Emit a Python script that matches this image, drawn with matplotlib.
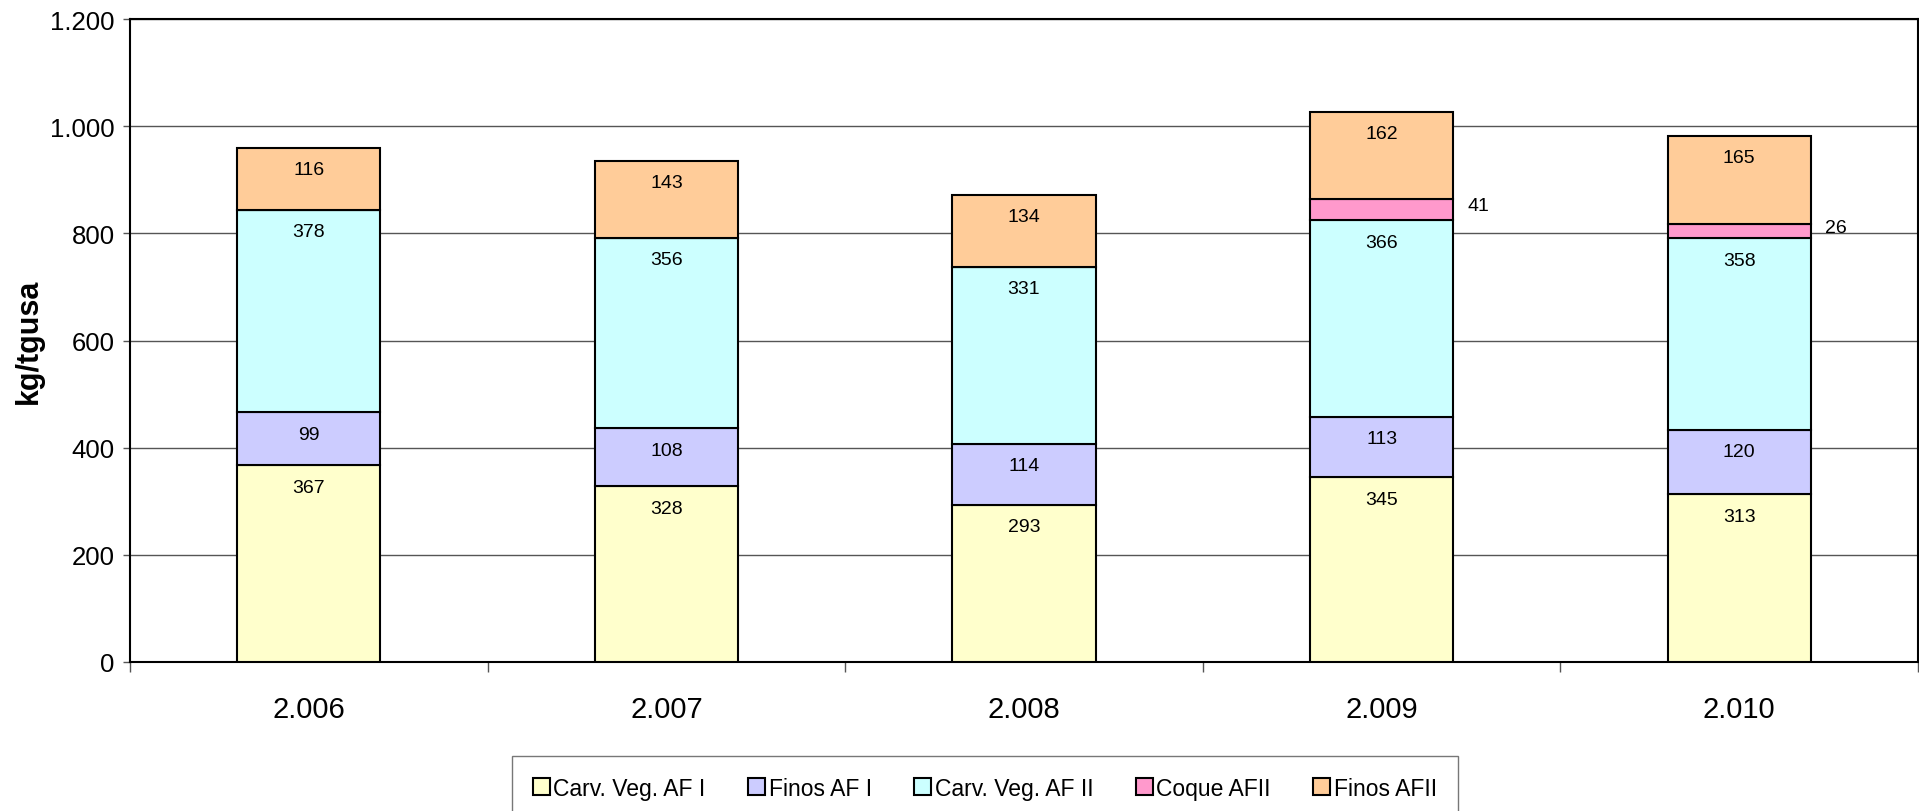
import numpy as np
import matplotlib
matplotlib.use("Agg")
import matplotlib.pyplot as plt

# ─── Data ────────────────────────────────────────────────────────────────────

years = ["2.006", "2.007", "2.008", "2.009", "2.010"]

carv_veg_af1 = [367, 328, 293, 345, 313]
finos_af1    = [99, 108, 114, 113, 120]
carv_veg_af2 = [378, 356, 331, 366, 358]
coque_af2    = [0, 0, 0, 41, 26]
finos_af2    = [116, 143, 134, 162, 165]

series_names  = ["Carv. Veg. AF I", "Finos AF I", "Carv. Veg. AF II", "Coque AFII", "Finos AFII"]
series_colors = ["#FFFFCC", "#CCCCFF", "#CCFFFF", "#FF99CC", "#FFCC99"]

y_ticks = [0, 200, 400, 600, 800, 1000, 1200]

# ─── Plot ────────────────────────────────────────────────────────────────────

plt.rcParams["font.family"] = ["Liberation Sans", "DejaVu Sans"]

W, H = 1919, 812
fig = plt.figure(figsize=(W / 100, H / 100), dpi=100)
ax = fig.add_axes([130 / W, (H - 663) / H, 1788 / W, 643 / H])

x = np.arange(len(years))
width = 0.4
series = [carv_veg_af1, finos_af1, carv_veg_af2, coque_af2, finos_af2]
bottom = np.zeros(len(years))

for name, vals, color in zip(series_names, series, series_colors):
    vals = np.asarray(vals, dtype=float)
    ax.bar(x, vals, width, bottom=bottom, color=color, edgecolor="black",
           linewidth=1.5, label=name, zorder=3)
    for xi, b, v in zip(x, bottom, vals):
        if v <= 0:
            continue
        if name == "Coque AFII":
            # small segment -> label outside, right of the bar
            ax.annotate(f"{int(v)}", (xi + width / 2, b + v / 2),
                        xytext=(10, 3), textcoords="offset points",
                        ha="left", va="center", fontsize=14, zorder=4)
        else:
            ax.annotate(f"{int(v)}", (xi, b + v),
                        xytext=(0, -19), textcoords="offset points",
                        ha="center", va="baseline", fontsize=14, zorder=4)
    bottom += vals

ax.set_xlim(-0.5, len(years) - 0.5)
ax.set_ylim(0, 1200)

ax.set_yticks(y_ticks)
ax.set_yticklabels([f"{v:,}".replace(",", ".") for v in y_ticks], fontsize=18.5)
ax.tick_params(axis="y", length=5, width=1, color="#555555", pad=6)

ax.set_xticks(x)
ax.set_xticklabels(years, fontsize=21)
ax.set_xticks(np.arange(len(years) + 1) - 0.5, minor=True)
ax.tick_params(axis="x", which="major", length=0, pad=24)
ax.tick_params(axis="x", which="minor", length=7, width=1, color="#555555")

ax.yaxis.grid(True, color="#555555", linewidth=1.0, zorder=0)
ax.set_axisbelow(True)

for sp in ax.spines.values():
    sp.set_color("black")
    sp.set_linewidth(1.5)

ax.set_ylabel("kg/tgusa", fontsize=22, fontweight="bold")
ax.yaxis.set_label_coords(-0.048, 0.5)

leg = fig.legend(loc="upper left", bbox_to_anchor=(512 / W, 1 - 757 / H),
                 bbox_transform=fig.transFigure, borderaxespad=0,
                 ncol=5, fontsize=16.5, frameon=True, fancybox=False,
                 handlelength=0.75, handleheight=0.75, handletextpad=0.15,
                 columnspacing=1.85, borderpad=0.9)
leg.get_frame().set_edgecolor("#555555")
leg.get_frame().set_linewidth(1.0)

fig.savefig("out.png", dpi=100)
plt.close(fig)
